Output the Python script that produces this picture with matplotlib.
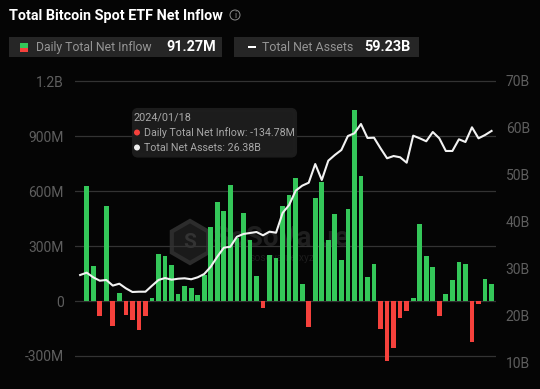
import numpy as np
import matplotlib
matplotlib.use("Agg")
import matplotlib.pyplot as plt
from matplotlib.patches import Rectangle, FancyBboxPatch, Circle, RegularPolygon

# Flujo diario (millones) y activos netos (miles de millones)
inflow = [np.nan, 627, 191, -80, 518, -134.78, 44, -77, -104, -158, -80, 15, 256, 247, 198, 38, 80, 69, 33,
          142, 405, 541, 493, 631, 344, 478, 333, 136, -36, 251, 233, 518, 576, 673, 93, -140, 563, 651,
          333, 473, 224, 505, 1045, 683, 133, 200, -153, -326, -258, -93, -53, 16, 418, 244, 184, -84,
          40, 113, 213, 202, -222, -18, 122, 91.27]
assets = [28.63, 29.12, 28.14, 27.42, 27.57, 26.38, 26.78, 25.80, 25.02, 25.08, 25.08, 26.35, 27.57, 27.99,
          27.63, 27.84, 27.93, 27.72, 28.14, 28.84, 30.39, 32.51, 34.43, 34.64, 36.76, 37.34, 37.55, 37.76,
          37.06, 37.83, 37.61, 41.80, 43.50, 46.53, 47.60, 48.23, 52.20, 48.81, 52.91, 54.12, 55.18, 58.15,
          58.73, 60.70, 57.73, 57.79, 55.54, 53.42, 53.90, 53.63, 52.48, 58.22, 57.66, 57.03, 59.00, 57.66,
          54.97, 54.97, 57.45, 56.88, 60.00, 57.66, 58.36, 59.23]

left_ticks = [-300, 0, 300, 600, 900, 1200]
left_labels = ["-300M", "0", "300M", "600M", "900M", "1.2B"]
right_ticks = [10, 20, 30, 40, 50, 60, 70]
right_labels = ["10B", "20B", "30B", "40B", "50B", "60B", "70B"]

W, H = 540, 389
BG = "#050505"
GREEN = "#34c759"
RED = "#f5413c"
GREY = "#5e5e5e"
FONT = "Roboto"

fig = plt.figure(figsize=(W / 100, H / 100), dpi=100, facecolor=BG)

# capa de fondo en pixeles, para cajas y textos de la cabecera
bg = fig.add_axes([0, 0, 1, 1], zorder=0)
bg.set_xlim(0, W)
bg.set_ylim(H, 0)
bg.axis("off")

ax = fig.add_axes([75 / W, 1 - 375 / H, 421 / W, 297 / H], zorder=1)
ax.patch.set_alpha(0)
x = np.arange(len(inflow))
ax.set_xlim(-0.79, 63.68)
ax.set_ylim(-404, 1217.5)
vals = np.array(inflow)
colors = [GREEN if v >= 0 else RED for v in np.nan_to_num(vals)]
ax.set_yticks(left_ticks, left_labels)
ax.grid(axis="y", color="#333333", lw=0.9)
ax.set_axisbelow(True)
ax.bar(x, np.nan_to_num(vals), width=0.72, color=colors, zorder=3)
ax.tick_params(axis="y", length=0, pad=8, labelcolor=GREY, labelsize=10)
ax.tick_params(axis="x", length=0, labelbottom=False)
for s in ax.spines.values():
    s.set_visible(False)

ax2 = ax.twinx()
ax2.set_zorder(2)
ax2.set_ylim(7.39, 70.47)
ax2.plot(x, assets, color="#f2f2f2", lw=1.5, solid_joinstyle="round", zorder=4)
ax2.set_yticks(right_ticks, right_labels)
ax2.tick_params(axis="y", length=0, pad=7, labelcolor=GREY, labelsize=10)
for s in ax2.spines.values():
    s.set_visible(False)
for lab in ax.get_yticklabels() + ax2.get_yticklabels():
    lab.set_family(FONT)

# titulo
bg.text(9, 15.5, "Total Bitcoin Spot ETF Net Inflow", color="white", fontsize=10.35, fontweight="bold",
        family=FONT, va="center")
bg.add_patch(Circle((235, 15), 5, fc="none", ec="#8a8a8a", lw=0.7))
bg.text(235, 15, "i", color="#8a8a8a", fontsize=6.5, ha="center", va="center", family=FONT)

# leyenda
bg.add_patch(Rectangle((9, 37), 213, 20, fc="#262626", ec="none"))
bg.add_patch(Rectangle((234, 37), 184.5, 20, fc="#262626", ec="none"))
bg.add_patch(Rectangle((20, 43), 8, 4.5, fc=GREEN, ec="none"))
bg.add_patch(Rectangle((20, 47.5), 8, 4.5, fc=RED, ec="none"))
bg.add_patch(Rectangle((248, 46), 7.5, 2, fc="white", ec="none"))
bg.text(36, 47, "Daily Total Net Inflow", color="#959595", fontsize=8.8, family=FONT, va="center")
bg.text(166, 47, "91.27M", color="white", fontsize=10.4, fontweight="bold", family=FONT, va="center")
bg.text(262, 47, "Total Net Assets", color="#959595", fontsize=8.9, family=FONT, va="center")
bg.text(364.5, 47, "59.23B", color="white", fontsize=10.4, fontweight="bold", family=FONT, va="center")

# marca de agua
bg.add_patch(RegularPolygon((190, 242), 6, radius=21, fc="#1a1a1a", ec="#2c2c2c", lw=3))
bg.text(190, 242, "S", color="#333333", fontsize=15, fontweight="bold", ha="center", va="center", family=FONT)
bg.text(213, 238, "SoSoValue", color="#1f1f1f", fontsize=20, fontweight="bold", family=FONT, va="center")
bg.text(250, 258, "sosovalue.xyz", color="#1c1c1c", fontsize=7.5, family=FONT, va="center")

# tooltip encima de todo
top = fig.add_axes([0, 0, 1, 1], zorder=5)
top.set_xlim(0, W)
top.set_ylim(H, 0)
top.axis("off")
top.add_patch(FancyBboxPatch((134, 110), 161, 45.5, boxstyle="round,pad=0,rounding_size=4",
                             mutation_aspect=1, fc="#1e1e1e", ec="#1e1e1e", lw=3, alpha=0.95))
top.text(134, 117.5, "2024/01/18", color="#a8a8a8", fontsize=7.8, family=FONT, va="center")
top.add_patch(Circle((137, 132.5), 3, fc=RED, ec="none"))
top.add_patch(Circle((137, 147.5), 3, fc="#eeeeee", ec="none"))
top.text(144, 132.5, "Daily Total Net Inflow: -134.78M", color="#a8a8a8", fontsize=7.65, family=FONT, va="center")
top.text(144, 147.5, "Total Net Assets: 26.38B", color="#a8a8a8", fontsize=7.65, family=FONT, va="center")

fig.savefig("out.png", dpi=100, facecolor=BG)
